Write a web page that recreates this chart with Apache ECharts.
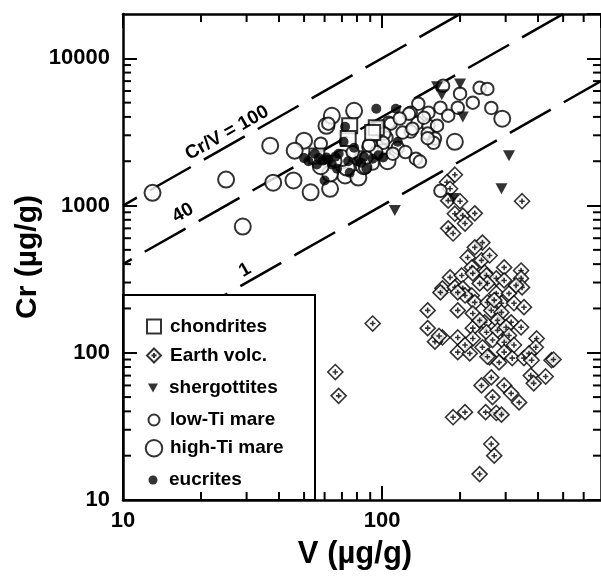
<!DOCTYPE html>
<html><head><meta charset="utf-8">
<script src="https://cdn.jsdelivr.net/npm/echarts@6/dist/echarts.min.js"></script>
<style>html,body{margin:0;padding:0;background:#fff}#c{width:601px;height:577px}</style>
</head><body><div id="c"></div>
<script>
// ---------- data ----------
const categories = ['chondrites', 'Earth volc.', 'shergottites', 'low-Ti mare', 'high-Ti mare', 'eucrites'];

const chondrites = [[75,3490],[95,3380],[74,2850],[92,3130],[56,2170]];

const earthVolc = [
 [191,1620],[178,1440],[183,1300],[180,1080],[200,1070],[191,880],[205,855],[228,885],[209,755],[180,700],[188,646],[347,1070],
 [244,560],[228,520],[214,444],[242,424],[260,458],[222,380],[249,351],[296,380],[344,362],[183,325],[203,335],[344,320],[171,274],
 [224,346],[253,335],[276,320],[347,278],[168,257],[191,278],[205,274],[222,245],[255,296],[276,253],[309,253],[329,287],
 [196,194],[228,220],[255,220],[289,217],[323,217],[353,204],[150,194],[224,185],[264,194],[289,188],[249,161],[279,166],[315,161],[344,149],
 [150,147],[171,127],[160,119],[196,127],[224,147],[253,138],[279,142],[301,149],[309,131],[224,125],[244,109],[267,122],[296,118],
 [196,101],[218,99],[260,93],[296,101],[318,92],[353,92],[395,125],[392,109],[369,99],[378,89],[451,89],[375,70],[428,69],
 [264,68],[242,60],[296,60],[385,62],[315,53],[267,50],[338,46],[188,36.5],[209,39.5],[251,39.5],[276,39],[289,38],[264,24],[271,20],[238,15],
 [92,158],[66,74],[68,51],[459,90],[166,130],[255,94],[238,296],[296,310],[209,245],[271,228],[238,166],[209,113],[323,113],[283,86],[196,257]
];

const shergottites = [[163,6400],[170,5650],[200,6700],[205,4000],[309,2180],[289,1300],[112,925],[188,1115]];

const lowTiMare = [
 [172,6500],[200,5750],[238,6300],[255,6200],[224,5000],[196,4620],[264,4600],[138,4920],[151,4270],[168,4620],[180,4080],
 [129,4270],[137,3650],[151,3490],[163,3490],[129,3180],[150,3080],[160,2850],[135,2080],[140,1990],[97,3380],[106,3650],
 [104,2890],[115,2470],[168,1260],[108,3600],[120,3130],[102,3080],[127,4200],[131,3330],[158,2670],[101,2670],[110,2250],
 [83,2120],[92,1930],[86,1810],[95,2310],[87,2120],[58,2630],[55,2150],[66,2000],[77,2300],[89,2570],[123,2310],[62,3600],
 [145,3950],[117,3900],[150,2870]
];

const highTiMare = [
 [13,1220],[25,1500],[29,720],[37,2550],[38,1430],[45.5,1480],[53,1230],[63,1300],[50,2760],[61,3480],[64,4070],[78,4400],
 [72,1600],[81,1550],[63,1650],[73,1810],[191,2710],[291,3890],[46,2360],[70,2100],[85,1850],[100,2300],[58,1850],[90,2500],[105,2000]
];

const eucrites = [
 [95,4550],[113,4550],[72,3430],[50,2100],[55,2250],[59,2020],[61,2120],[68,2250],[71,2710],[78,2470],[67,1780],[75,1670],
 [87,1780],[92,2080],[60,1480],[101,2120],[115,2710],[56,1900],[64,1900],[83,1950],
 [52,2000],[57,2100],[62,2050],[80,2000],[85,2150],[97,2200],[66,2150],[74,2000]
];

// Cr/V reference ratios and their labels
const ratios = [100, 40, 10];
const ratioLabels = ['Cr/V = 100', '40', '1'];

// axes
const xRange = [10, 700];
const yRange = [10, 20000];
const xMinorTicks = [20,30,40,50,60,70,80,90,200,300,400,500,600];
const yMinorTicks = [20,30,40,50,60,70,80,90,200,300,400,500,600,700,800,900,2000,3000,4000,5000,6000,7000,8000,9000];

// ---------- styles ----------
const FONT = 'Liberation Sans';
const dashOffsets = [31, 37, 51];
const diamondPlus = 'path://M0,-7 L7,0 L0,7 L-7,0 Z M-2.6,0 L2.6,0 M0,-2.6 L0,2.6';
const triDown = 'path://M0,0 L10,0 L5,9 Z';
const hollow = {color: '#fff', borderColor: '#000', borderWidth: 2};

const chart = echarts.init(document.getElementById('c'), null, {renderer: 'canvas'});

function axisCommon(extra) {
  return Object.assign({
    type: 'log', logBase: 10, z: 15,
    axisLine: {show: true, onZero: false, lineStyle: {color: '#000', width: 2.5}},
    axisTick: {show: true, inside: true, length: 14, lineStyle: {color: '#000', width: 2}},
    splitLine: {show: false},
    minorTick: {show: false}
  }, extra);
}
const labelStyle = {color: '#000', fontSize: 22, fontWeight: 'bold', fontFamily: FONT,
  showMaxLabel: false, formatter: v => String(Math.round(v))};

function tickSeries(data, isX) {
  return {
    type: 'custom', z: 15, silent: true, clip: false,
    data: data,
    renderItem: (params, api) => {
      const cs = params.coordSys;
      const p = api.coord([api.value(0), api.value(1)]);
      const L = 8, st = {stroke: '#000', lineWidth: 2};
      if (isX) {
        return {type: 'group', children: [
          {type: 'line', shape: {x1: p[0], y1: cs.y + cs.height, x2: p[0], y2: cs.y + cs.height - L}, style: st},
          {type: 'line', shape: {x1: p[0], y1: cs.y, x2: p[0], y2: cs.y + L}, style: st}
        ]};
      }
      return {type: 'group', children: [
        {type: 'line', shape: {x1: cs.x, y1: p[1], x2: cs.x + L, y2: p[1]}, style: st},
        {type: 'line', shape: {x1: cs.x + cs.width, y1: p[1], x2: cs.x + cs.width - L, y2: p[1]}, style: st}
      ]};
    }
  };
}

const ratioSeries = ratios.map((r, i) => ({
  type: 'line', name: 'ratio' + r, silent: true, z: 1,
  data: [[xRange[0], xRange[0] * r], [xRange[1], xRange[1] * r]],
  symbol: 'none', clip: true,
  lineStyle: {color: '#000', width: 2.5, type: [47, 15], dashOffset: dashOffsets[i]}
}));

const legendSpec = [
  // name, centre y, icon w, icon h
  ['chondrites', 324, 14, 14],
  ['Earth volc.', 353, 14, 14],
  ['shergottites', 383, 10, 9],
  ['low-Ti mare', 416, 11, 11],
  ['high-Ti mare', 447, 16.5, 16.5],
  ['eucrites', 475, 9, 9]
];
const legends = legendSpec.map(([n, yc, w, h]) => ({
  data: [n], left: 153 - w / 2, top: yc - h / 2, padding: 0, z: 20,
  itemWidth: w, itemHeight: h, selectedMode: false,
  textStyle: {fontSize: 19, fontWeight: 'bold', fontFamily: FONT, color: '#000',
    padding: [0, 0, 0, 169 - (153 + w / 2 + 5)]}
}));

const lineLabelPos = [[227, 133], [183, 213], [245, 270]];

chart.setOption({
  animation: false,
  backgroundColor: '#fff',
  grid: {left: 123, top: 14, width: 485, height: 486, containLabel: false},
  xAxis: [
    axisCommon({position: 'bottom', min: xRange[0], max: xRange[1],
      axisLabel: Object.assign({margin: 10}, labelStyle),
      name: 'V (µg/g)', nameLocation: 'middle', nameGap: 39, nameMoveOverlap: false,
      nameTextStyle: {fontSize: 31, fontWeight: 'bold', fontFamily: FONT, color: '#000', padding: [0, 14, 0, 0]}}),
    axisCommon({position: 'top', min: xRange[0], max: xRange[1], axisLabel: {show: false}})
  ],
  yAxis: [
    axisCommon({position: 'left', min: yRange[0], max: yRange[1],
      axisLabel: Object.assign({margin: 13}, labelStyle),
      name: 'Cr (µg/g)', nameLocation: 'middle', nameGap: 80, nameRotate: 90, nameMoveOverlap: false,
      nameTextStyle: {fontSize: 30, fontWeight: 'bold', fontFamily: FONT, color: '#000'}}),
    axisCommon({position: 'right', min: yRange[0], max: yRange[1], axisLabel: {show: false}})
  ],
  legend: legends,
  graphic: [
    {type: 'rect', z: 10, shape: {x: 123, y: 295, width: 192, height: 205},
      style: {fill: '#fff', stroke: '#000', lineWidth: 2}}
  ].concat(ratioLabels.map((t, i) => ({
    type: 'text', z: 12, x: lineLabelPos[i][0], y: lineLabelPos[i][1], rotation: 29.3 * Math.PI / 180,
    style: {text: t, fontSize: 19, fontWeight: 'bold', fontFamily: FONT, fill: '#000', align: 'center', verticalAlign: 'middle'}
  }))),
  series: ratioSeries.concat([
    {type: 'scatter', name: 'Earth volc.', data: earthVolc, symbol: diamondPlus, symbolSize: 15, z: 3,
      itemStyle: {color: '#fff', borderColor: '#000', borderWidth: 1.6}},
    {type: 'scatter', name: 'high-Ti mare', data: highTiMare, symbol: 'circle', symbolSize: 16, z: 3, itemStyle: hollow},
    {type: 'scatter', name: 'low-Ti mare', data: lowTiMare, symbol: 'circle', symbolSize: 12.5, z: 3, itemStyle: hollow},
    {type: 'scatter', name: 'chondrites', data: chondrites, symbol: 'rect', symbolSize: 15, z: 3, itemStyle: hollow},
    {type: 'scatter', name: 'eucrites', data: eucrites, symbol: 'circle', symbolSize: 10, z: 3, itemStyle: {color: '#000'}},
    {type: 'scatter', name: 'shergottites', data: shergottites, symbol: triDown, symbolSize: [12, 11], z: 3, itemStyle: {color: '#000'}},
    tickSeries(xMinorTicks.map(v => [v, yRange[0]]), true),
    tickSeries(yMinorTicks.map(v => [xRange[0], v]), false)
  ])
});
</script></body></html>
